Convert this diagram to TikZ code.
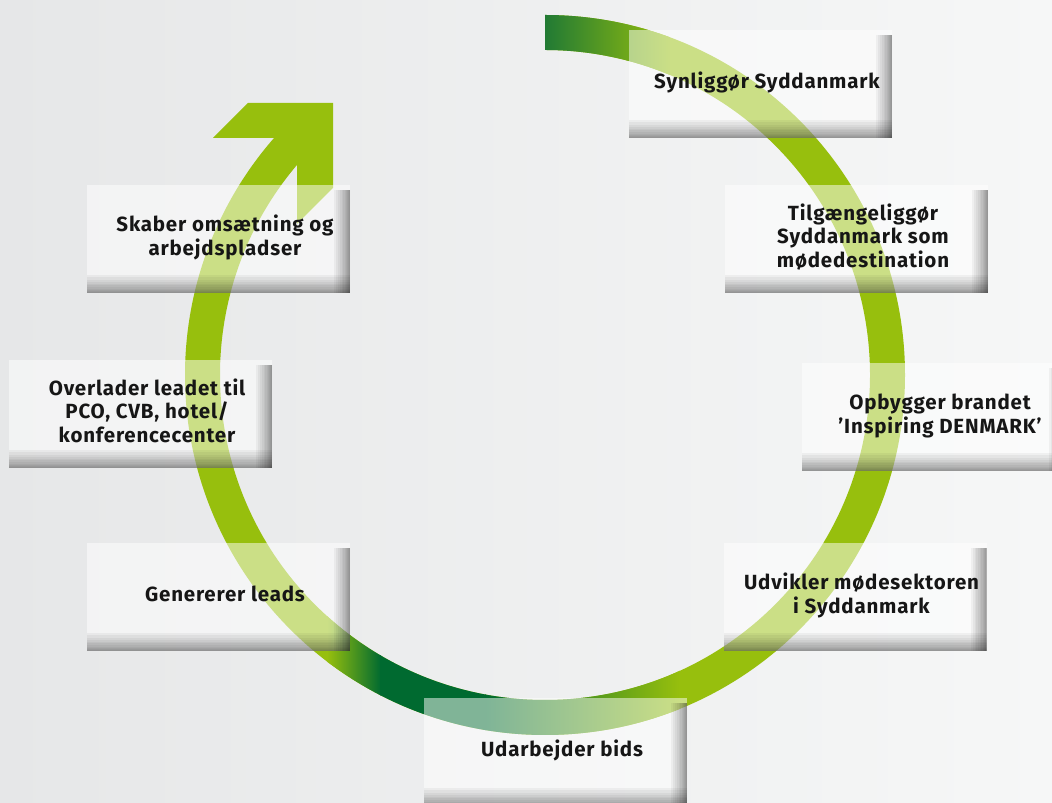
\documentclass[tikz,border=0pt]{standalone}
\usepackage{fontspec}
\setmainfont{Fira Sans}[LetterSpace=4]
\usetikzlibrary{calc}

\definecolor{leaf}{HTML}{97BF0D}
\definecolor{pine}{HTML}{006A30}
\definecolor{moss}{HTML}{217A34}
\definecolor{ink}{HTML}{161616}
\definecolor{bgleft}{HTML}{E6E7E8}
\definecolor{bgright}{HTML}{F6F7F7}

\newcommand{\cardtext}[1]{\hspace*{13pt}\begin{tabular}{@{}c@{}}#1\end{tabular}}

\begin{document}
\begin{tikzpicture}[x=1pt, y=1pt,
  card/.style={minimum width=263pt, minimum height=108pt, inner sep=0pt,
    fill=white, fill opacity=.5, text opacity=1, text=ink,
    font=\fontsize{20.5}{23.5}\selectfont\bfseries,
    path picture={
      \foreach \k in {1,...,12} {
        \pgfmathsetmacro\w{16*(\k/12)^1.6}
        \pgfmathsetmacro\h{18*(\k/12)^1.6}
        \fill[black, fill opacity=.045]
          ($(path picture bounding box.north east)+(-\w,-5)$) rectangle (path picture bounding box.south east);
        \fill[black, fill opacity=.045]
          (path picture bounding box.south west) rectangle ($(path picture bounding box.south east)+(0,\h)$);
      }
    }}]
  \useasboundingbox (0,0) rectangle (1052,803);
  \shade[left color=bgleft, right color=bgright] (0,0) rectangle (1052,803);

  \coordinate (c) at (545,428);
  \begin{scope}
    \clip ($(c)+(90:360)$) arc[start angle=90, end angle=-224, radius=360pt]
      -- ($(c)+(-224:325)$) arc[start angle=-224, end angle=90, radius=325pt] -- cycle;
    \fill[leaf] (150,0) rectangle (950,803);
    \shade[left color=moss, right color=leaf] (545,690) rectangle (670,803);
    \shade[left color=leaf, right color=pine] (327,0) rectangle (381,250);
    \fill[pine] (380,0) rectangle (486,250);
    \shade[left color=pine, right color=leaf] (485,0) rectangle (680,250);
  \end{scope}
  \fill[leaf] (213,665) -- (248,700) -- (333,700) -- (333,615) -- (297,579) -- (297,665) -- cycle;

  \node[card] (1) at (760.5,719) {\cardtext{Synliggør Syddanmark}};
  \node[card] (2) at (856.5,564) {\cardtext{Tilgængeliggør\\Syddanmark som\\mødedestination}};
  \node[card] (3) at (933.5,386) {\cardtext{Opbygger brandet\\’Inspiring DENMARK’}};
  \node[card] (4) at (855,206) {\cardtext{Udvikler mødesektoren\\i Syddanmark}};
  \node[card] (5) at (555.5,51) {\cardtext{Udarbejder bids}};
  \node[card] (6) at (218.5,206) {\cardtext{Genererer leads}};
  \node[card] (7) at (140.5,389) {\cardtext{Overlader leadet til\\PCO, CVB, hotel/\\konferencecenter}};
  \node[card] (8) at (218.5,564) {\cardtext{Skaber omsætning og\\arbejdspladser}};
\end{tikzpicture}
\end{document}
